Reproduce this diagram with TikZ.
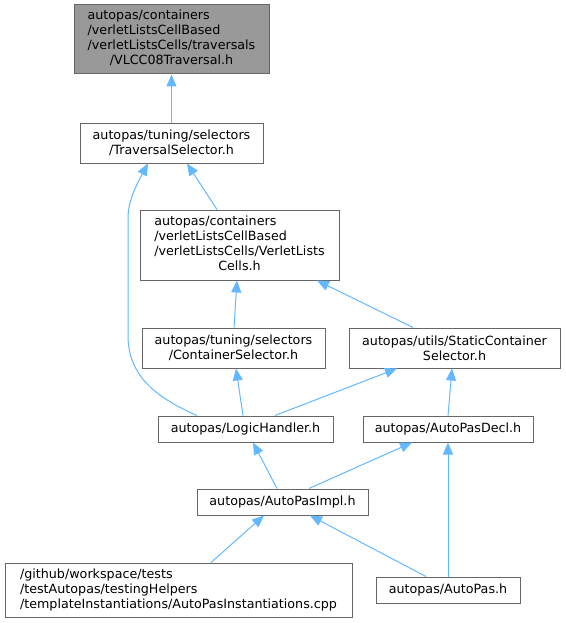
\documentclass[tikz,border=0pt]{standalone}
\usepackage{fontspec}
\setmainfont{DejaVu Sans}
\usetikzlibrary{arrows.meta}
\definecolor{edgeblue}{HTML}{63B8FF}
\definecolor{boxgray}{HTML}{666666}
\definecolor{curgray}{HTML}{999999}
\newcommand{\lastline}[1]{\multicolumn{1}{@{}c@{}}{#1}}

\begin{document}
\begin{tikzpicture}[x=1pt, y=-1pt,
		file/.style={rectangle, draw=boxgray, line width=1pt, inner sep=0pt, font=\fontsize{12.7}{15}\selectfont},
		dep/.style={draw=edgeblue, line width=1pt, -{Triangle[length=12pt,width=10pt]}}]
		\useasboundingbox (0,0) rectangle (565,623);

		% the files
		\node[file, fill=curgray, minimum width=195pt, minimum height=69pt] (top) at (171.5,39.5)
			{\begin{tabular}{@{}l@{}}autopas/containers\\/verletListsCellBased\\/verletListsCells/traversals\\\lastline{/VLCC08Traversal.h}\end{tabular}};
		\node[file, align=center, minimum width=183pt, minimum height=40pt] (trav) at (171.5,143) {autopas/tuning/selectors\\/TraversalSelector.h};
		\node[file, minimum width=199pt, minimum height=70pt] (vlc) at (239.5,245)
			{\begin{tabular}{@{}l@{}}autopas/containers\\/verletListsCellBased\\/verletListsCells/VerletLists\\\lastline{Cells.h}\end{tabular}};
		\node[file, align=center, minimum width=183pt, minimum height=40pt] (cs) at (233.5,348) {autopas/tuning/selectors\\/ContainerSelector.h};
		\node[file, align=center, minimum width=211pt, minimum height=40pt] (sc) at (454.5,348) {autopas/utils/StaticContainer\\Selector.h};
		\node[file, minimum width=175pt, minimum height=26pt] (lh) at (245.5,429) {autopas/LogicHandler.h};
		\node[file, minimum width=170pt, minimum height=26pt] (apd) at (448,429) {autopas/AutoPasDecl.h};
		\node[file, minimum width=171pt, minimum height=26pt] (api) at (282.5,502) {autopas/AutoPasImpl.h};
		\node[file, align=left, minimum width=347pt, minimum height=54pt] (inst) at (178.5,590)
			{/github/workspace/tests\\/testAutopas/testingHelpers\\/templateInstantiations/AutoPasInstantiations.cpp};
		\node[file, minimum width=144pt, minimum height=26pt] (ap) at (448,590) {autopas/AutoPas.h};

		% includes
		\draw[dep] (trav.north) -- (top.south);
		\draw[dep] ([xshift=-48.5pt]lh.north) .. controls (150,395) and (128,372) .. (128,335) -- (128,218) .. controls (128,200) and (138,182) .. ([xshift=-23.5pt]trav.south);
		\draw[dep] ([xshift=-22.5pt]vlc.north) -- ([xshift=15.5pt]trav.south);
		\draw[dep] ([xshift=0.5pt]cs.north) -- ([xshift=-2.5pt]vlc.south);
		\draw[dep] ([xshift=-41.5pt]sc.north) -- ([xshift=77.5pt]vlc.south);
		\draw[dep] ([xshift=-2.5pt]lh.north) -- ([xshift=2.5pt]cs.south);
		\draw[dep] ([xshift=29.5pt]lh.north) -- ([xshift=-57.5pt]sc.south);
		\draw[dep] (apd.north) -- ([xshift=-2.5pt]sc.south);
		\draw[dep] ([xshift=-5.5pt]api.north) -- ([xshift=7.5pt]lh.south);
		\draw[dep] ([xshift=26.5pt]api.north) -- ([xshift=-36pt]apd.south);
		\draw[dep] (ap.north) -- (apd.south);
		\draw[dep] ([xshift=32.5pt]inst.north) -- ([xshift=-18.5pt]api.south);
		\draw[dep] ([xshift=-22pt]ap.north) -- ([xshift=27.5pt]api.south);
\end{tikzpicture}
\end{document}
